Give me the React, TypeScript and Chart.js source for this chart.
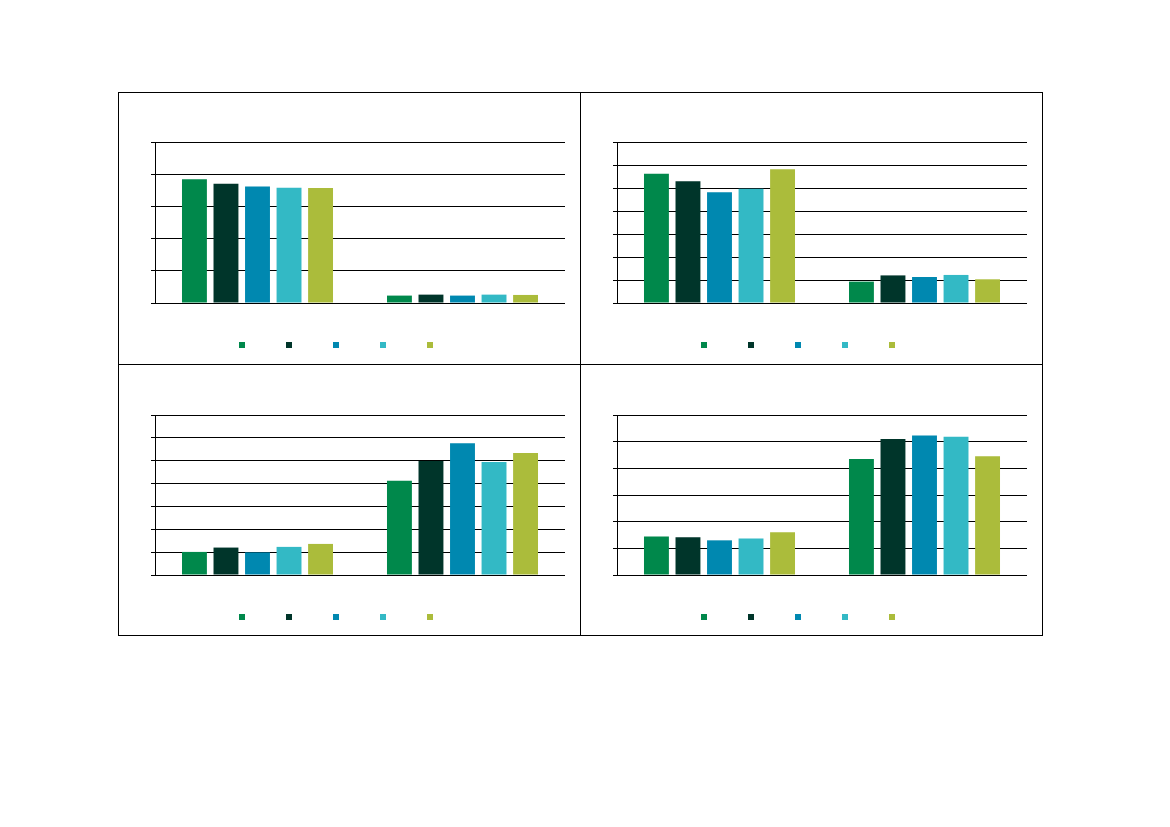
import React, { useEffect, useRef } from "react";
import { Chart, registerables } from "chart.js";

Chart.register(...registerables);

const categories = ["Group 1", "Group 2"];
const seriesNames = ["Series 1", "Series 2", "Series 3", "Series 4", "Series 5"];
const seriesColors = ["#00884B", "#00352A", "#0088B0", "#33B9C5", "#ABBC3B"];

// values per panel, per series: [group1, group2]
const panel1Values = [
  [3.84, 0.23],
  [3.7, 0.26],
  [3.62, 0.23],
  [3.58, 0.26],
  [3.57, 0.25],
];
const panel2Values = [
  [5.62, 0.93],
  [5.29, 1.2],
  [4.81, 1.13],
  [4.97, 1.22],
  [5.81, 1.03],
];
const panel3Values = [
  [1.01, 4.12],
  [1.2, 4.99],
  [0.99, 5.76],
  [1.23, 4.94],
  [1.36, 5.34],
];
const panel4Values = [
  [1.44, 4.35],
  [1.42, 5.1],
  [1.3, 5.23],
  [1.37, 5.18],
  [1.6, 4.45],
];
const panelMax = [5, 7, 7, 6];

const legendPlugin = {
  id: "squareLegend",
  afterDraw(chart: any) {
    const { ctx, chartArea } = chart;
    ctx.save();
    chart.data.datasets.forEach((ds: any, i: number) => {
      const x = chartArea.left + 84 + i * 47;
      const y = chartArea.bottom + 39;
      ctx.fillStyle = ds.backgroundColor;
      ctx.fillRect(x, y, 6, 6);
    });
    ctx.restore();
  },
};

function Panel({ values, max, left, top, padTop }: any) {
  const ref = useRef<HTMLCanvasElement>(null);
  useEffect(() => {
    if (!ref.current) return;
    const chart = new Chart(ref.current, {
      type: "bar",
      data: {
        labels: categories,
        datasets: values.map((v: number[], i: number) => ({
          label: seriesNames[i],
          data: v,
          backgroundColor: seriesColors[i],
          borderWidth: 0,
          categoryPercentage: 0.769,
          barPercentage: 0.79,
        })),
      },
      options: {
        animation: false,
        responsive: false,
        maintainAspectRatio: false,
        layout: { padding: { left: 32, right: 14, top: padTop, bottom: 60 } },
        plugins: { legend: { display: false }, tooltip: { enabled: false } },
        scales: {
          x: { display: false },
          y: {
            min: 0,
            max: max,
            ticks: { display: false, stepSize: 1 },
            grid: { color: "#000", lineWidth: 1, tickLength: 4, drawTicks: true },
            border: { color: "#000", width: 1 },
            afterFit: (s: any) => {
              s.width = 4;
            },
          },
        },
      },
      plugins: [legendPlugin],
    });
    return () => chart.destroy();
  }, []);
  return (
    <canvas
      ref={ref}
      width={460}
      height={270}
      style={{ position: "absolute", left, top, width: 460, height: 270 }}
    />
  );
}

export default function App() {
  return (
    <div style={{ position: "absolute", left: 0, top: 0, width: 1170, height: 827, background: "#fff" }}>
      <div style={{ position: "absolute", left: 118, top: 92, width: 923, height: 542, border: "1px solid #000" }} />
      <div style={{ position: "absolute", left: 580, top: 92, width: 1, height: 544, background: "#000" }} />
      <div style={{ position: "absolute", left: 118, top: 364, width: 925, height: 1, background: "#000" }} />
      <Panel values={panel1Values} max={panelMax[0]} left={119} top={93} padTop={49} />
      <Panel values={panel2Values} max={panelMax[1]} left={581} top={93} padTop={49} />
      <Panel values={panel3Values} max={panelMax[2]} left={119} top={365} padTop={50} />
      <Panel values={panel4Values} max={panelMax[3]} left={581} top={365} padTop={50} />
    </div>
  );
}
